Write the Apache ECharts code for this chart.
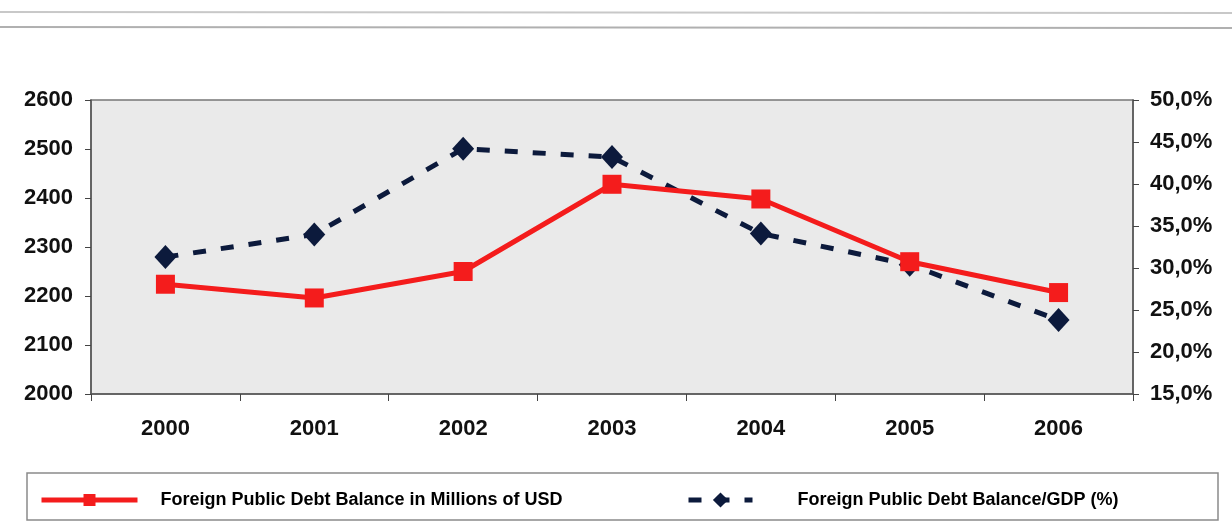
<!DOCTYPE html>
<html>
<head>
<meta charset="utf-8">
<script src="https://cdn.jsdelivr.net/npm/echarts@6/dist/echarts.min.js"></script>
<style>
html,body{margin:0;padding:0;background:#fff;}
#chart{width:1232px;height:523px;}
</style>
</head>
<body>
<div id="chart"></div>
<script>
const years = ['2000','2001','2002','2003','2004','2005','2006'];
const debtUSD = [2224, 2196, 2250, 2428, 2398, 2270, 2207];
const debtGDP = [31.3, 34.0, 44.2, 43.2, 34.1, 30.4, 23.8];
const seriesNames = ['Foreign Public Debt Balance in Millions of USD', 'Foreign Public Debt Balance/GDP (%)'];

const chart = echarts.init(document.getElementById('chart'));
const lblFont = {fontFamily:'Arial, "Liberation Sans", sans-serif', fontWeight:'bold', fontSize:22, color:'#111'};
const legFont = {fontFamily:'Arial, "Liberation Sans", sans-serif', fontWeight:'bold', fontSize:18, color:'#000'};
chart.setOption({
  backgroundColor:'#fff',
  animation:false,
  graphic:[
    {type:'line', shape:{x1:0,y1:12,x2:1232,y2:13}, style:{stroke:'#c8c8c8',lineWidth:2}},
    {type:'line', shape:{x1:0,y1:27,x2:1232,y2:28}, style:{stroke:'#b0b0b0',lineWidth:2}},
    {type:'rect', shape:{x:27,y:473,width:1191,height:47}, style:{fill:'#fff',stroke:'#8a8a8a',lineWidth:1.5}, z:-1}
  ],
  grid:{left:91, right:99, top:100, bottom:129, show:true, backgroundColor:'#eaeaea', borderColor:'#777', borderWidth:1.5},
  legend:[
    {data:[seriesNames[0]], left:34, top:486, itemWidth:96, itemHeight:15,
     lineStyle:{width:5},
     textStyle:Object.assign({padding:[0,0,0,18]}, legFont)},
    {data:[seriesNames[1]], left:681, top:486, itemWidth:64, itemHeight:19,
     lineStyle:{width:5},
     textStyle:Object.assign({padding:[0,0,0,40]}, legFont)}
  ],
  xAxis:{type:'category', data:years, boundaryGap:true,
    axisLine:{lineStyle:{color:'#555',width:1.5}},
    axisTick:{show:true, length:7, lineStyle:{color:'#444'}},
    axisLabel:Object.assign({margin:24}, lblFont)},
  yAxis:[
    {type:'value', min:2000, max:2600, interval:100, position:'left',
     axisLine:{show:true, lineStyle:{color:'#555',width:1.5}},
     axisTick:{show:true, length:6, lineStyle:{color:'#444'}},
     splitLine:{show:false},
     axisLabel:Object.assign({margin:18, formatter:v => String(v)}, lblFont)},
    {type:'value', min:15, max:50, interval:5, position:'right',
     axisLine:{show:true, lineStyle:{color:'#555',width:1.5}},
     axisTick:{show:true, length:6, lineStyle:{color:'#444'}},
     splitLine:{show:false},
     axisLabel:Object.assign({margin:17, formatter:v => v.toFixed(1).replace('.', ',') + '%'}, lblFont)}
  ],
  series:[
    {name:seriesNames[0], type:'line', yAxisIndex:0, data:debtUSD,
     symbol:'rect', symbolSize:19, color:'#f41c1c',
     lineStyle:{color:'#f41c1c', width:5}, itemStyle:{color:'#f41c1c'}, z:3},
    {name:seriesNames[1], type:'line', yAxisIndex:1, data:debtGDP,
     symbol:'diamond', symbolSize:[22,24], color:'#0c1a3c',
     lineStyle:{color:'#0c1a3c', width:5, type:[13,15]}, itemStyle:{color:'#0c1a3c'}, z:2}
  ]
});
</script>
</body>
</html>
